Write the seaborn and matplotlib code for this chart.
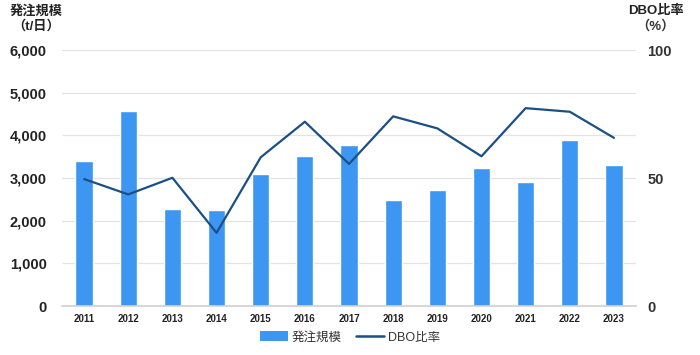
import numpy as np
import pandas as pd
import matplotlib
matplotlib.use("Agg")
import matplotlib.pyplot as plt
import seaborn as sns
from matplotlib.patches import Patch
from matplotlib.lines import Line2D

years = ["2011", "2012", "2013", "2014", "2015", "2016", "2017",
         "2018", "2019", "2020", "2021", "2022", "2023"]
order_scale = [3400, 4570, 2270, 2250, 3100, 3510, 3770,
               2490, 2720, 3240, 2910, 3890, 3300]      # t/日
dbo_ratio = [49.6, 43.6, 50.1, 28.6, 58.1, 72.0, 55.5,
             74.1, 69.4, 58.5, 77.3, 75.9, 65.7]        # %

BAR_COLOR  = "#3D96F2"
LINE_COLOR = "#1B4F85"
GRID_COLOR = "#E3E3E3"

sns.set_theme(style="white")
plt.rcParams["font.family"] = ["Liberation Sans", "Noto Sans CJK JP", "DejaVu Sans"]

df = pd.DataFrame({"year": years, "scale": order_scale, "dbo": dbo_ratio})

fig = plt.figure(figsize=(7.0, 3.55), dpi=100)
ax = fig.add_axes([0.0886, 0.138, 0.82, 0.721])

sns.barplot(data=df, x="year", y="scale", color=BAR_COLOR, width=0.39,
            saturation=1, ax=ax, zorder=2)
ax.set_ylim(0, 6000)
ax.set_yticks(range(0, 6001, 1000))
ax.set_yticklabels([f"{v:,}" for v in range(0, 6001, 1000)],
                   fontsize=10.5, fontweight="bold", color="#222222")
ax.set_xlim(-0.5, len(years) - 0.5)
ax.tick_params(axis="x", labelsize=7, length=0, pad=6)
for t in ax.get_xticklabels():
    t.set_fontweight("bold")
    t.set_color("#222222")
ax.tick_params(axis="y", length=0, pad=11)
ax.set_xlabel("")
ax.set_ylabel("")
ax.grid(axis="y", color=GRID_COLOR, linewidth=0.9, zorder=0)
for s in ["top", "right", "left"]:
    ax.spines[s].set_visible(False)
ax.spines["bottom"].set_color("#D0D0D0")
ax.spines["bottom"].set_linewidth(1.2)

ax2 = ax.twinx()
sns.lineplot(x=np.arange(len(years)), y=df["dbo"], color=LINE_COLOR,
             linewidth=1.6, ax=ax2, zorder=3)
ax2.set_ylim(0, 100)
ax2.set_yticks([0, 50, 100])
ax2.set_yticklabels(["0", "50", "100"], fontsize=10.5, fontweight="bold",
                    color="#333333")
ax2.tick_params(axis="y", length=0, pad=8)
ax2.set_ylabel("")
ax2.set_xlim(-0.5, len(years) - 0.5)
for s in ax2.spines.values():
    s.set_visible(False)

fig.text(0.051, 0.968, "発注規模", ha="center", va="center",
         fontsize=9.5, fontweight="bold", color="#222222")
fig.text(0.051, 0.925, "（t/日）", ha="center", va="center",
         fontsize=9.5, fontweight="bold", color="#222222")
fig.text(0.937, 0.968, "DBO比率", ha="center", va="center",
         fontsize=9.5, fontweight="bold", color="#222222")
fig.text(0.937, 0.925, "（%）", ha="center", va="center",
         fontsize=9.5, fontweight="bold", color="#333333")

handles = [Patch(facecolor=BAR_COLOR, edgecolor="none", label="発注規模"),
           Line2D([0], [0], color=LINE_COLOR, linewidth=1.8, label="DBO比率")]
fig.legend(handles=handles, loc="center", bbox_to_anchor=(0.5, 0.05),
           ncol=2, frameon=False, fontsize=9, handlelength=2.2,
           handleheight=0.9, columnspacing=1.2, handletextpad=0.3,
           labelcolor="#333333")

fig.savefig("out.png", dpi=100)
